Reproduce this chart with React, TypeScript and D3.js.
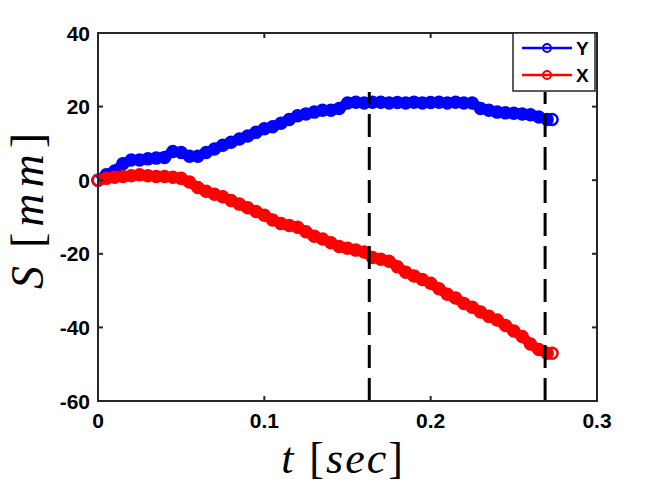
import React from "react";
import * as d3 from "d3";

const tValues = [
  0, 0.005, 0.01, 0.015, 0.02, 0.025, 0.03, 0.035, 0.04, 0.045, 0.05, 0.055, 0.06, 0.065, 0.07,
  0.075, 0.08, 0.085, 0.09, 0.095, 0.1, 0.105, 0.11, 0.115, 0.12, 0.125, 0.13, 0.135, 0.14, 0.145,
  0.15, 0.155, 0.16, 0.165, 0.17, 0.175, 0.18, 0.185, 0.19, 0.195, 0.2, 0.205, 0.21, 0.215, 0.22,
  0.225, 0.23, 0.235, 0.24, 0.245, 0.25, 0.255, 0.26, 0.265, 0.27, 0.273,
];

const yValues = [
  0, 1.5, 2.5, 4.5, 5.5, 5.5, 5.8, 6, 6.2, 7.8, 7.5, 6.5, 6.5, 7.5, 8.5,
  9.5, 10.3, 11.2, 12, 13, 14, 14.5, 15.5, 16.5, 17.5, 18, 18.5, 19, 19, 19.5,
  21, 21.2, 21, 21.2, 21.2, 21, 21.1, 21, 21.2, 21, 21.1, 21.2, 21, 21.2, 21,
  21, 19.5, 19, 18.5, 18.3, 18.2, 18, 17.8, 17.2, 16.5, 16.5,
];

const xValues = [
  0, 0.5, 0.8, 1, 1.2, 1.5, 1.2, 1, 1, 0.8, 0.5, -0.5, -2, -3, -3.8,
  -4.5, -5.5, -6.5, -7.5, -8.5, -9.5, -10.8, -11.8, -12.3, -12.8, -14, -15.2, -16, -17, -18,
  -18.5, -19, -19.5, -21, -21.5, -22, -23.5, -25, -26, -27, -28, -29.5, -31, -32, -33.5,
  -34.5, -35.8, -37, -38, -39.5, -41, -42.5, -44.5, -46, -47, -47,
];

const xTicks = [0, 0.1, 0.2, 0.3];
const yTicks = [-60, -40, -20, 0, 20, 40];
const markerTimes = [0.1631, 0.2688];
const markerTop = 24;

const series = [
  { name: "Y", values: yValues, color: "#0000ff" },
  { name: "X", values: xValues, color: "#ff0000" },
];

const W = 657;
const H = 489;
const L = 98;
const T = 33;
const R = 597;
const B = 401;

export default function App() {
  const x = d3.scaleLinear().domain([0, 0.3]).range([L, R]);
  const y = d3.scaleLinear().domain([-60, 40]).range([B, T]);
  const line = d3
    .line<number>()
    .x((_, i) => x(tValues[i]))
    .y((d) => y(d));
  const axisColor = "#262626";
  const tickLen = 5;
  const tickFont = "'Liberation Sans', Arial, sans-serif";
  const labelFont = "'Liberation Serif', 'Times New Roman', serif";

  return (
    <svg width={W} height={H} style={{ position: "absolute", left: 0, top: 0, background: "#fff" }}>
      <rect x={0} y={0} width={W} height={H} fill="#fff" />
      {/* data */}
      {series.map((s) => (
        <g key={s.name}>
          <path d={line(s.values) || ""} fill="none" stroke={s.color} strokeWidth={10} strokeLinejoin="round" />
          {s.values.map((v, i) => (
            <circle key={i} cx={x(tValues[i])} cy={y(v)} r={5.5} fill="none" stroke={s.color} strokeWidth={2.5} />
          ))}
        </g>
      ))}
      {/* vertical dashed lines */}
      {markerTimes.map((t) => (
        <line
          key={t}
          x1={x(t)}
          x2={x(t)}
          y1={y(-60)}
          y2={y(markerTop)}
          stroke="#000"
          strokeWidth={3}
          strokeDasharray="23 10"
        />
      ))}
      {/* axes box */}
      <rect x={L} y={T} width={R - L} height={B - T} fill="none" stroke={axisColor} strokeWidth={2} />
      {xTicks.map((t) => (
        <g key={t}>
          <line x1={x(t)} x2={x(t)} y1={B} y2={B - tickLen} stroke={axisColor} strokeWidth={2} />
          <line x1={x(t)} x2={x(t)} y1={T} y2={T + tickLen} stroke={axisColor} strokeWidth={2} />
          <text x={x(t)} y={428} textAnchor="middle" fontFamily={tickFont} fontWeight="bold" fontSize={21} fill="#000">
            {t === 0 ? "0" : String(t)}
          </text>
        </g>
      ))}
      {yTicks.map((v) => (
        <g key={v}>
          <line x1={L} x2={L + tickLen} y1={y(v)} y2={y(v)} stroke={axisColor} strokeWidth={2} />
          <line x1={R} x2={R - tickLen} y1={y(v)} y2={y(v)} stroke={axisColor} strokeWidth={2} />
          <text x={90} y={y(v) + 7.5} textAnchor="end" fontFamily={tickFont} fontWeight="bold" fontSize={21} fill="#000">
            {String(v)}
          </text>
        </g>
      ))}
      {/* axis labels */}
      <text x={343} y={473} textAnchor="middle" fontFamily={labelFont} fontSize={44} fill="#000" letterSpacing={2}>
        <tspan fontStyle="italic">t</tspan>
        <tspan dx={14}>[</tspan>
        <tspan fontStyle="italic">sec</tspan>
        <tspan>]</tspan>
      </text>
      <text
        transform={`translate(43, 208) rotate(-90)`}
        textAnchor="middle"
        fontFamily={labelFont}
        fontSize={46}
        fill="#000"
        letterSpacing={6}
      >
        <tspan fontStyle="italic">S</tspan>
        <tspan dx={12}>[</tspan>
        <tspan fontStyle="italic">mm</tspan>
        <tspan>]</tspan>
      </text>
      {/* legend */}
      <rect x={513} y={33} width={82} height={58} fill="#fff" stroke={axisColor} strokeWidth={1.5} />
      {series.map((s, i) => {
        const ly = 48 + i * 27;
        return (
          <g key={s.name}>
            <line x1={522} x2={572} y1={ly} y2={ly} stroke={s.color} strokeWidth={2.5} />
            <circle cx={547} cy={ly} r={4} fill="none" stroke={s.color} strokeWidth={2} />
            <text x={576} y={ly + 7} fontFamily={tickFont} fontWeight="bold" fontSize={19} fill="#000">
              {s.name}
            </text>
          </g>
        );
      })}
    </svg>
  );
}
